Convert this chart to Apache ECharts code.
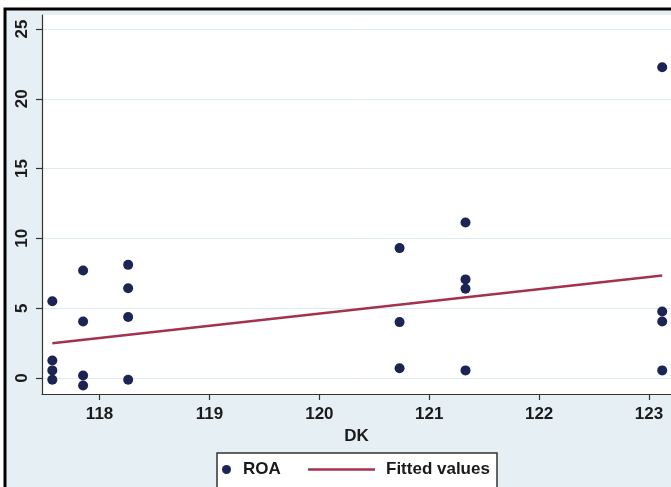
<!DOCTYPE html>
<html><head><meta charset="utf-8">
<script src="https://cdn.jsdelivr.net/npm/echarts@6/dist/echarts.min.js"></script>
<style>html,body{margin:0;padding:0;background:#fff}#c{width:671px;height:487px}</style>
</head><body><div id="c"></div>
<script>
// ROA observations (DK, ROA)
const roaDK  = [117.57,117.57,117.57,117.57, 117.85,117.85,117.85,117.85, 118.26,118.26,118.26,118.26, 120.73,120.73,120.73, 121.33,121.33,121.33,121.33, 123.12,123.12,123.12,123.12];
const roaVal = [5.5,1.25,0.54,-0.13, 7.7,4.05,0.18,-0.54, 8.1,6.43,4.36,-0.13, 9.3,4.0,0.7, 11.14,7.06,6.39,0.54, 22.26,4.76,4.05,0.54];
// Fitted values line endpoints
const fitDK  = [117.57, 123.12];
const fitVal = [2.49, 7.34];
// Tick labels
const xTicks = [118,119,120,121,122,123];
const yTicks = [0,5,10,15,20,25];

const txt = {fontFamily:'Liberation Sans, Arial, sans-serif', fontSize:17, fontWeight:'bold', color:'#1a1a1a'};
const chart = echarts.init(document.getElementById('c'), null, {renderer:'canvas'});
chart.setOption({
  backgroundColor:'#fff',
  animation:false,
  graphic:[
    {type:'rect', z:-100, silent:true, shape:{x:5,y:9,width:700,height:500}, style:{fill:'#e6f0f4', stroke:'#000', lineWidth:3}},
    {type:'rect', z:1, silent:true, shape:{x:217,y:453,width:280,height:50}, style:{fill:'#fff', stroke:'#333', lineWidth:1.5}}
  ],
  grid:{left:42, right:0, top:15, bottom:93, show:true, backgroundColor:'#fff', borderWidth:0},
  legend:[
    {data:['ROA'], left:222, top:461, padding:0, itemWidth:9, itemHeight:18, icon:'circle', selectedMode:false,
     itemStyle:{opacity:1},
     textStyle:Object.assign({}, txt, {padding:[0,0,0,7]})},
    {data:[{name:'Fitted values', icon:'path://M0,0L67,0L67,2.5L0,2.5Z'}], left:308, top:461, padding:0, itemWidth:67, itemHeight:18, selectedMode:false,
     itemStyle:{color:'#a3324e'},
     textStyle:Object.assign({}, txt, {padding:[0,0,0,6]})}
  ],
  xAxis:{
    type:'value', min:117.476, max:123.2,
    name:'DK', nameLocation:'middle', nameGap:34, nameTextStyle:txt,
    axisLine:{show:true, onZero:false, lineStyle:{color:'#333', width:1.2}},
    axisTick:{show:true, length:6, customValues:xTicks, lineStyle:{color:'#333', width:1.2}},
    axisLabel:Object.assign({customValues:xTicks, margin:12}, txt),
    splitLine:{show:false}
  },
  yAxis:{
    type:'value', min:-1.15, max:26,
    axisLine:{show:true, onZero:false, lineStyle:{color:'#333', width:1.2}},
    axisTick:{show:true, length:6, customValues:yTicks, lineStyle:{color:'#333', width:1.2}},
    axisLabel:Object.assign({customValues:yTicks, margin:11, rotate:90}, txt),
    splitLine:{show:true, lineStyle:{color:'#deecf2', width:1}}
  },
  series:[
    {name:'ROA', type:'scatter', symbolSize:10, itemStyle:{color:'#1c2454', opacity:1},
     data:roaDK.map((d,i)=>[d, roaVal[i]])},
    {name:'Fitted values', type:'line', symbol:'none', lineStyle:{color:'#a3324e', width:2.5}, itemStyle:{color:'#a3324e'},
     data:fitDK.map((d,i)=>[d, fitVal[i]])}
  ]
});
</script></body></html>
